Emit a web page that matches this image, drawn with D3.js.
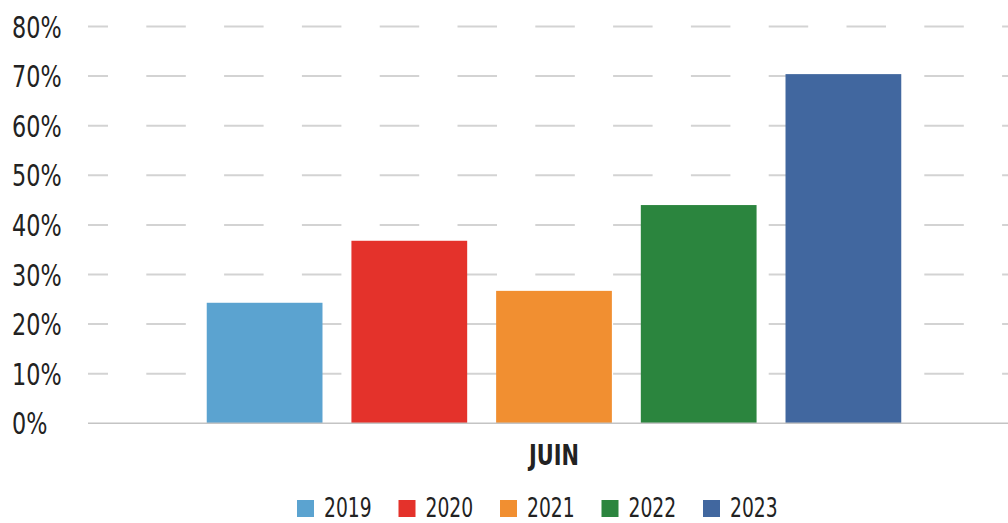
<!DOCTYPE html>
<html>
<head>
<meta charset="utf-8">
<script src="https://cdn.jsdelivr.net/npm/d3@7"></script>
<style>
  html, body { margin: 0; padding: 0; background: #fff; overflow: hidden; }
  svg { display: block; }
  .lbl { font-family: "DejaVu Sans Condensed", "DejaVu Sans", sans-serif; font-stretch: condensed; fill: #222; }
</style>
</head>
<body>
<svg id="chart" width="1008" height="523"></svg>
<script>
// Share of respondents, June, by year
const months = ["JUIN"];
const years = ["2019", "2020", "2021", "2022", "2023"];
const values = [24.3, 36.8, 26.7, 44.0, 70.4];
const colors = ["#5ba3d0", "#e4322b", "#f18f31", "#2b853e", "#41679f"];
const yTicks = [0, 10, 20, 30, 40, 50, 60, 70, 80];

const svg = d3.select("#chart");
const plotLeft = 88, plotRight = 1020, plotTop = 26.5, plotBottom = 423.3;
const squeeze = 0.8; // narrow the glyphs horizontally

const y = d3.scaleLinear().domain([0, 80]).range([plotBottom, plotTop]);
const x0 = d3.scaleBand().domain(months).range([plotLeft, plotRight]).padding(0.146);
const x1 = d3.scaleBand().domain(years).range([0, x0.bandwidth()]).paddingInner(0.2);

// dashed gridlines above zero
svg.append("g")
  .selectAll("line")
  .data(yTicks.filter(d => d > 0))
  .join("line")
  .attr("x1", plotLeft).attr("x2", plotRight)
  .attr("y1", d => y(d)).attr("y2", d => y(d))
  .attr("stroke", "#d3d3d3")
  .attr("stroke-width", 2)
  .attr("stroke-dasharray", "39.5 38.3")
  .attr("stroke-dashoffset", 19.5);

// tick labels, left aligned
svg.append("g")
  .selectAll("text")
  .data(yTicks)
  .join("text")
  .attr("class", "lbl")
  .attr("transform", d => `translate(12,${y(d)}) scale(${squeeze},1)`)
  .attr("dy", "0.36em")
  .style("font-size", "31px")
  .text(d => d + "%");

// bars
const grp = svg.append("g");
months.forEach(m => {
  grp.selectAll("rect")
    .data(years.map((yr, i) => ({ yr, v: values[i], c: colors[i] })))
    .join("rect")
    .attr("x", d => x0(m) + x1(d.yr))
    .attr("width", x1.bandwidth())
    .attr("y", d => y(d.v))
    .attr("height", d => y(0) - y(d.v))
    .attr("fill", d => d.c);
});

// baseline
svg.append("line")
  .attr("x1", plotLeft).attr("x2", plotRight)
  .attr("y1", y(0)).attr("y2", y(0))
  .attr("stroke", "#c4c4c4")
  .attr("stroke-width", 1.5);

// category label
svg.selectAll(".cat")
  .data(months)
  .join("text")
  .attr("class", "lbl cat")
  .attr("transform", d => `translate(${x0(d) + x0.bandwidth() / 2},465) scale(${squeeze},1)`)
  .attr("text-anchor", "middle")
  .style("font-size", "29px")
  .style("font-weight", "bold")
  .text(d => d);

// legend
const legend = svg.append("g")
  .selectAll("g")
  .data(years)
  .join("g")
  .attr("transform", (d, i) => `translate(${297 + i * 101.5},0)`);
legend.append("rect")
  .attr("x", 0).attr("y", 500)
  .attr("width", 17).attr("height", 17)
  .attr("fill", (d, i) => colors[i]);
legend.append("text")
  .attr("class", "lbl")
  .attr("transform", `translate(27,516.5) scale(${squeeze},1)`)
  .style("font-size", "26px")
  .text(d => d);
</script>
</body>
</html>
